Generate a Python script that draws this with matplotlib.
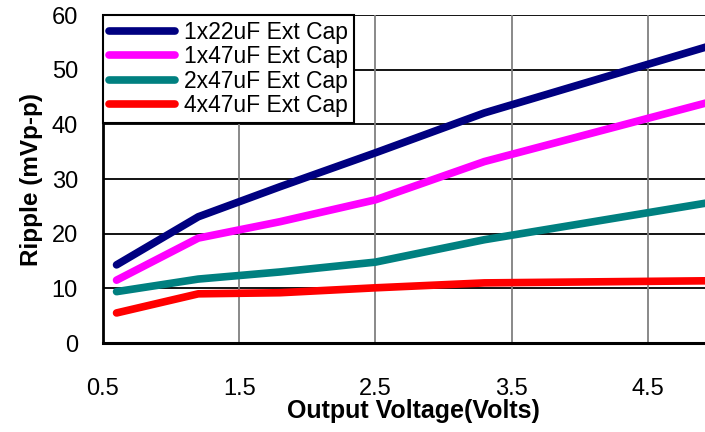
import matplotlib.pyplot as plt

plt.rcParams['font.family'] = ['Liberation Sans', 'DejaVu Sans']

vout = [0.6, 1.2, 1.8, 2.5, 3.3, 5.0]
ripple_1x22 = [14.3, 23.1, 28.6, 34.8, 42.1, 54.7]
ripple_1x47 = [11.5, 19.2, 22.2, 26.2, 33.2, 44.4]
ripple_2x47 = [9.4, 11.7, 13.0, 14.8, 18.9, 25.9]
ripple_4x47 = [5.5, 9.0, 9.2, 10.1, 11.0, 11.4]

labels = ["1x22uF Ext Cap", "1x47uF Ext Cap", "2x47uF Ext Cap", "4x47uF Ext Cap"]
colors = ["#000080", "#FF00FF", "#008080", "#FF0000"]
series = [ripple_1x22, ripple_1x47, ripple_2x47, ripple_4x47]

fig = plt.figure(figsize=(7.05, 4.32), dpi=100)
ax = fig.add_axes([0.146, 0.206, 0.854, 0.759])

for vals, c, lab in zip(series, colors, labels):
    ax.plot(vout, vals, color=c, lw=5.5, label=lab, solid_capstyle='round',
            solid_joinstyle='round', zorder=3)

ax.set_xlim(0.5, 4.92)
ax.set_ylim(0, 60)
ax.set_xticks([0.5, 1.5, 2.5, 3.5, 4.5])
ax.set_xticklabels(["0.5", "1.5", "2.5", "3.5", "4.5"])
ax.set_yticks(range(0, 61, 10))

for y in range(10, 61, 10):
    ax.axhline(y, color='black', lw=1.3, zorder=1)
for x in [1.5, 2.5, 3.5, 4.5]:
    ax.axvline(x, color='#808080', lw=1.3, zorder=1)

for s in ['top', 'right']:
    ax.spines[s].set_visible(False)
ax.spines['left'].set_linewidth(2)
ax.spines['bottom'].set_linewidth(2.2)

ax.tick_params(axis='both', length=0, labelsize=17)
ax.tick_params(axis='x', pad=25)
ax.tick_params(axis='y', pad=18)

ax.set_xlabel("Output Voltage(Volts)", fontsize=18, fontweight='bold')
ax.xaxis.set_label_coords(0.515, -0.172)
ax.set_ylabel("Ripple (mVp-p)", fontsize=17.5, fontweight='bold', labelpad=6)

leg = ax.legend(loc='upper left', fontsize=16.5, frameon=True, fancybox=False,
                edgecolor='black', framealpha=1, borderaxespad=0,
                handlelength=2.9, handletextpad=0.4, labelspacing=0.06,
                borderpad=0.25)
leg.get_frame().set_linewidth(1.5)
leg.set_zorder(5)

fig.savefig("out.png", dpi=100)
